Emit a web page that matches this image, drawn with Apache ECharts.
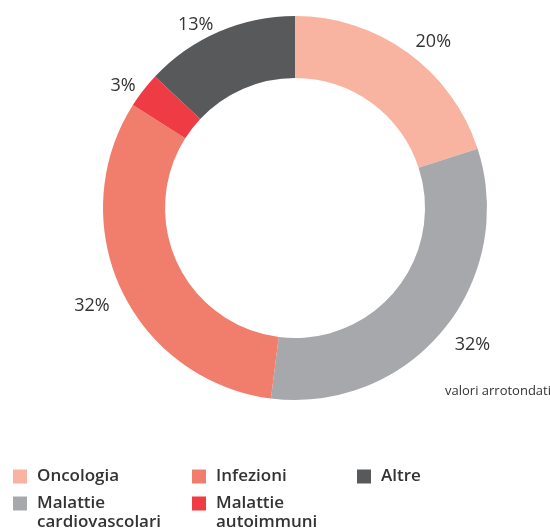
<!DOCTYPE html>
<html>
<head>
<meta charset="utf-8">
<style>
  html, body { margin: 0; padding: 0; background: #fff; }
  #chart { width: 550px; height: 531px; }
</style>
<script src="https://cdn.jsdelivr.net/npm/echarts@6/dist/echarts.min.js"></script>
</head>
<body>
<div id="chart"></div>
<script>
// categories in drawing order (clockwise from 12 o'clock)
const categories = ["Oncologia", "Malattie\ncardiovascolari", "Infezioni", "Malattie\nautoimmuni", "Altre"];
const shares = [20, 32, 32, 3, 13];
const colors = ["#f8b3a1", "#a7a8ac", "#f17e6c", "#ee3b44", "#58595b"];
// small nudges [dx, dy] of each percentage label off its ring position
const labelNudge = [[9, 12], [8, -3], [-4, 4], [2, 13], [-12, 19]];

// legend columns, as laid out under the chart
const legendCols = [
  ["Oncologia", "Malattie\ncardiovascolari"],
  ["Infezioni", "Malattie\nautoimmuni"],
  ["Altre"]
];
const legendLeft = [13, 192, 357];

const FONT = "'Open Sans', 'Noto Sans', sans-serif";
const CENTER = [295, 208];

const chart = echarts.init(document.getElementById("chart"), null, { renderer: "canvas" });

const pieData = categories.map((name, i) => ({
  name,
  value: shares[i],
  itemStyle: { color: colors[i] }
}));

const legends = legendCols.map((col, c) => ({
  orient: "vertical",
  left: legendLeft[c],
  top: 467,
  height: 200,
  padding: 0,
  itemGap: -11,
  icon: "rect",
  itemWidth: 14,
  itemHeight: 14,
  selectedMode: false,
  // a blank first line keeps the icon level with the first line of two-line names
  formatter: name => name.includes("\n") ? " \n" + name : name,
  textStyle: {
    fontFamily: FONT,
    fontSize: 17,
    fontWeight: 600,
    color: "#333",
    lineHeight: 19,
    padding: [0, 0, 0, 5]
  },
  data: col
}));

chart.setOption({
  animation: false,
  color: colors,
  title: {
    text: "valori arrotondati",
    left: 445,
    top: 385,
    padding: 0,
    textStyle: { fontFamily: FONT, fontSize: 13, fontWeight: "normal", color: "#333" }
  },
  legend: legends,
  series: [
    {
      name: "quote",
      type: "pie",
      center: CENTER,
      radius: [130, 192],
      startAngle: 90,
      clockwise: true,
      label: { show: false },
      labelLine: { show: false },
      emphasis: { disabled: true },
      data: pieData
    },
    {
      // invisible ring used only to place the percentage labels around the donut
      name: "etichette",
      type: "pie",
      center: CENTER,
      radius: [199, 235],
      startAngle: 90,
      clockwise: true,
      silent: true,
      legendHoverLink: false,
      itemStyle: { color: "rgba(0,0,0,0)" },
      label: {
        show: true,
        position: "inside",
        formatter: "{c}%",
        fontFamily: FONT,
        fontSize: 18,
        color: "#333"
      },
      labelLine: { show: false },
      emphasis: { disabled: true },
      data: categories.map((name, i) => ({
        name: name + " ",
        value: shares[i],
        label: { offset: labelNudge[i] }
      }))
    }
  ]
});
</script>
</body>
</html>
